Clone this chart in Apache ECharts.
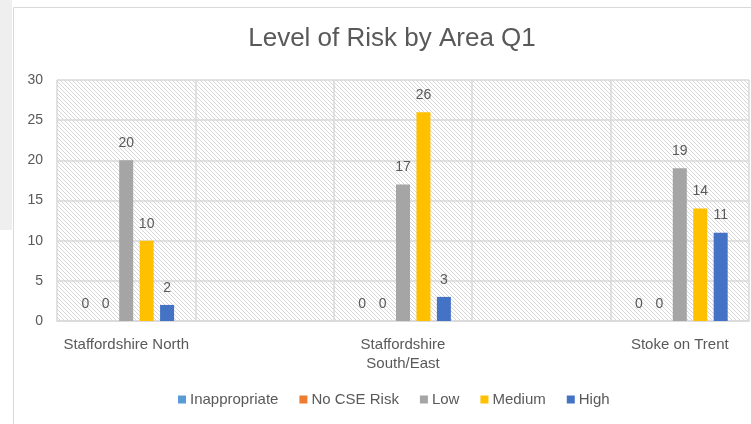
<!DOCTYPE html>
<html>
<head>
<meta charset="utf-8">
<script src="https://cdn.jsdelivr.net/npm/echarts@6/dist/echarts.min.js"></script>
<style>
  html, body { margin: 0; padding: 0; background: #fff; }
  #main { width: 751px; height: 424px; }
</style>
</head>
<body>
<div id="main"></div>
<script>
// areas (blank slots between them in the original axis)
var areas = ['Staffordshire North', 'Staffordshire\nSouth/East', 'Stoke on Trent'];
var seriesNames = ['Inappropriate', 'No CSE Risk', 'Low', 'Medium', 'High'];
var inappropriate = [0, 0, 0];
var noCseRisk = [0, 0, 0];
var low = [20, 17, 19];
var medium = [10, 26, 14];
var high = [2, 3, 11];
var colors = ['#5b9bd5', '#ed7d31', '#a5a5a5', '#ffc000', '#4472c4'];

// put an empty category between each area
function pad(arr, blank) {
  var out = [];
  arr.forEach(function (v, i) {
    if (i > 0) out.push(blank);
    out.push(v);
  });
  return out;
}

// hatched plot background
function hatch() {
  var c = document.createElement('canvas');
  c.width = 4; c.height = 4;
  var ctx = c.getContext('2d');
  ctx.fillStyle = '#ffffff';
  ctx.fillRect(0, 0, 4, 4);
  ctx.strokeStyle = '#d6d6d6';
  ctx.lineWidth = 1;
  ctx.beginPath();
  ctx.moveTo(-1, -1); ctx.lineTo(5, 5);
  ctx.moveTo(-1, 3); ctx.lineTo(1, 5);
  ctx.moveTo(3, -1); ctx.lineTo(5, 1);
  ctx.stroke();
  return c;
}

var chart = echarts.init(document.getElementById('main'));
var font = "'Liberation Sans', Arial, sans-serif";
var allData = [inappropriate, noCseRisk, low, medium, high];

var option = {
  backgroundColor: '#fff',
  textStyle: { fontFamily: font },
  animation: false,
  graphic: [
    { type: 'rect', shape: { x: 0, y: 0, width: 12, height: 230 }, style: { fill: '#efefef' }, z: -1 },
    { type: 'rect', shape: { x: 13.5, y: 7.5, width: 760, height: 430 }, style: { fill: null, stroke: '#d9d9d9', lineWidth: 1 }, z: -1 },
    {
      type: 'text', x: 392, y: 26,
      style: { text: 'Level of Risk by Area Q1', textAlign: 'center', fill: '#595959', font: "26px " + font }
    }
  ],
  grid: {
    left: 57, right: 2, top: 80, bottom: 103,
    show: true, borderWidth: 0,
    backgroundColor: { image: hatch(), repeat: 'repeat' }
  },
  legend: {
    bottom: 12, left: 173,
    itemWidth: 8, itemHeight: 8, itemGap: 21,
    icon: 'rect',
    textStyle: { color: '#595959', fontSize: 15, padding: [0, 0, 0, -1] },
    data: seriesNames
  },
  xAxis: {
    type: 'category',
    data: pad(areas, ''),
    axisLine: { show: true, lineStyle: { color: '#d9d9d9', width: 1.5 } },
    axisTick: { show: false },
    splitLine: { show: true, lineStyle: { color: '#d9d9d9', width: 1.5 } },
    axisLabel: { interval: 0, color: '#595959', fontSize: 15, margin: 14, lineHeight: 19 }
  },
  yAxis: {
    type: 'value', min: 0, max: 30, interval: 5,
    axisLine: { show: false },
    axisTick: { show: false },
    splitLine: { lineStyle: { color: '#d9d9d9', width: 1.5 } },
    axisLabel: { color: '#595959', fontSize: 14, margin: 14 }
  },
  series: seriesNames.map(function (name, i) {
    return {
      name: name,
      type: 'bar',
      data: pad(allData[i], null),
      barWidth: 14,
      barGap: '46%',
      itemStyle: { color: colors[i] },
      label: { show: true, position: 'top', color: '#595959', fontSize: 14, distance: 10 }
    };
  })
};

chart.setOption(option);
</script>
</body>
</html>
